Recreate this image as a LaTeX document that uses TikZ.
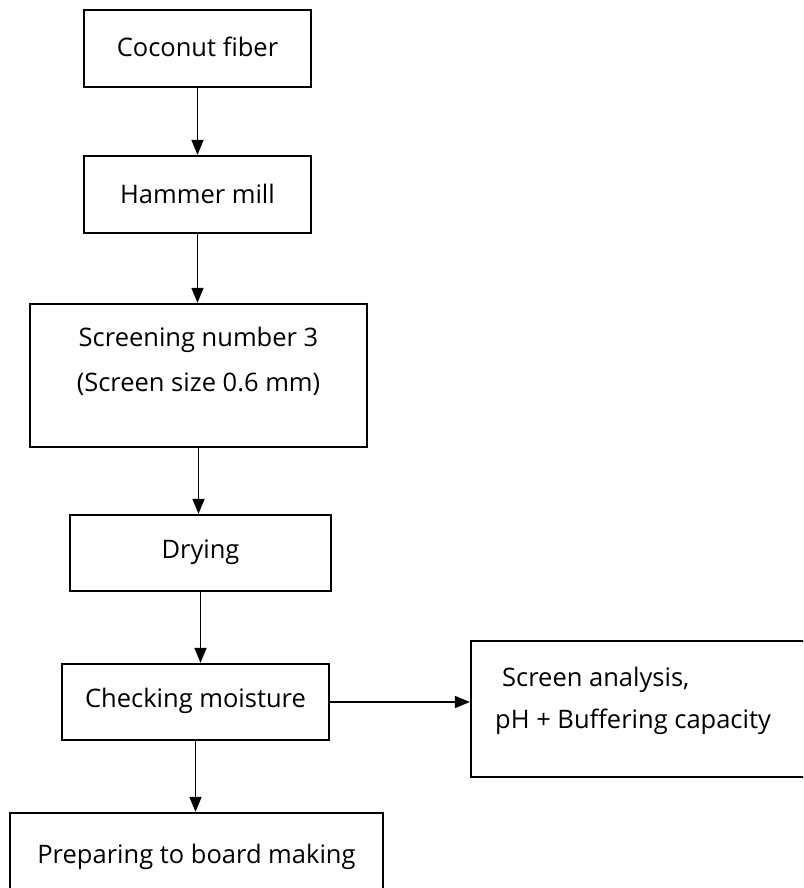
\documentclass[tikz,border=0pt]{standalone}
\usepackage{fontspec}
\setmainfont{Open Sans}
\usetikzlibrary{arrows.meta}
\begin{document}
\begin{tikzpicture}[x=1pt,y=-1pt,
  box/.style={draw,line width=2.3pt,minimum width=#1,inner sep=0pt},
  lbl/.style={font=\fontsize{25.5}{28}\selectfont,inner sep=0pt},
  arr/.style={line width=1.6pt,-{Triangle[width=12pt,length=15pt]}}]
\useasboundingbox (0,0) rectangle (803,888);
\clip (0,0) rectangle (803,888);
\node[box=227pt,minimum height=77pt] (coco) at (197.5,48.5) {};
\node[lbl] (cocot) at (197.5,47) {Coconut fiber};
\node[box=227pt,minimum height=77pt] (ham) at (197.5,194.5) {};
\node[lbl] (hamt) at (197.5,194) {Hammer mill};
\node[box=337pt,minimum height=143pt] (scr) at (198.5,375.5) {};
\node[lbl] (scrt1) at (198.5,340) {Screening number 3};
\node[lbl] (scrt2) at (198.5,384) {(Screen size 0.6 mm)};
\node[box=261pt,minimum height=76pt] (dry) at (200.5,553) {};
\node[lbl] (dryt) at (200.5,552) {Drying};
\node[box=267pt,minimum height=76pt] (chk) at (195.5,702) {};
\node[lbl] (chkt) at (195.5,701) {Checking moisture};
\node[box=340pt,minimum height=136pt] (ana) at (641,709) {};
\node[lbl,anchor=west] (anat1) at (502,680) {Screen analysis,};
\node[lbl,anchor=west] (anat2) at (495,722) {pH + Buffering capacity};
\node[box=373pt,minimum height=82pt] (prep) at (196.5,854) {};
\node[lbl] (prept) at (196.5,857) {Preparing to board making};
\draw[arr] (coco.south) -- (coco.south |- ham.north);
\draw[arr] (ham.south) -- (ham.south |- scr.north);
\draw[arr] (scr.south) -- (scr.south |- dry.north);
\draw[arr] (dry.south) -- (dry.south |- chk.north);
\draw[arr] (chk.east) -- (chk.east -| ana.west);
\draw[arr] (chk.south) -- (chk.south |- prep.north);
\end{tikzpicture}
\end{document}
